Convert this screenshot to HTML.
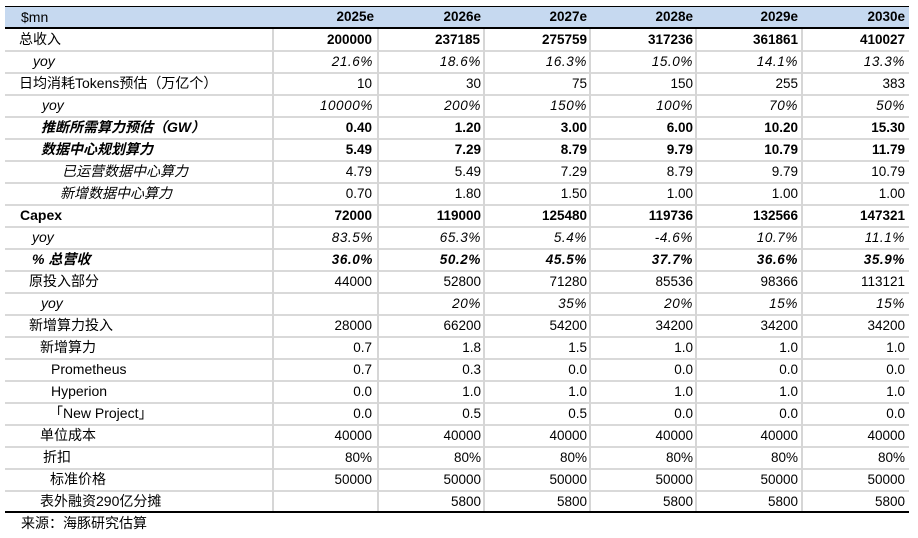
<!DOCTYPE html>
<html>
<head>
<meta charset="utf-8">
<style>
html,body{margin:0;padding:0;background:#fff;}
body{width:918px;height:538px;position:relative;overflow:hidden;font-family:"Liberation Sans","Noto Sans CJK SC",sans-serif;color:#000;}
.a{position:absolute;}
.hl{position:absolute;left:5px;width:904px;height:2px;background:#d9d9d9;}
.vl{position:absolute;top:29px;height:483px;width:2px;background:#d6d6d6;}
.lab{position:absolute;font-size:14px;height:21px;line-height:21px;white-space:nowrap;}
.n{position:absolute;width:100px;text-align:right;font-size:13.5px;letter-spacing:0px;height:21px;line-height:21px;white-space:nowrap;}
.b{font-weight:bold;}
.i{font-style:italic;}
.n.i{letter-spacing:0.6px;}
.hd{position:absolute;width:100px;text-align:right;font-size:13.5px;font-weight:bold;top:7px;height:20px;line-height:20px;}
</style>
</head>
<body>
<div class="a" style="left:5px;top:6px;width:904px;height:2px;background:#000;"></div>
<div class="a" style="left:5px;top:7px;width:904px;height:20px;background:#c6d9f0;"></div>
<div class="a" style="left:5px;top:27px;width:904px;height:2px;background:#000;"></div>
<div class="a" style="left:21px;top:7px;height:20px;line-height:20px;font-size:14px;">$mn</div>
<div class="hd" style="left:274px;">2025e</div>
<div class="hd" style="left:381px;">2026e</div>
<div class="hd" style="left:487px;">2027e</div>
<div class="hd" style="left:593px;">2028e</div>
<div class="hd" style="left:698px;">2029e</div>
<div class="hd" style="left:805px;">2030e</div>

<div class="hl" style="top:50px"></div><div class="hl" style="top:72px"></div><div class="hl" style="top:94px"></div><div class="hl" style="top:116px"></div><div class="hl" style="top:138px"></div><div class="hl" style="top:160px"></div><div class="hl" style="top:182px"></div><div class="hl" style="top:204px"></div><div class="hl" style="top:226px"></div><div class="hl" style="top:248px"></div><div class="hl" style="top:270px"></div><div class="hl" style="top:292px"></div><div class="hl" style="top:314px"></div><div class="hl" style="top:336px"></div><div class="hl" style="top:358px"></div><div class="hl" style="top:380px"></div><div class="hl" style="top:402px"></div><div class="hl" style="top:424px"></div><div class="hl" style="top:446px"></div><div class="hl" style="top:468px"></div><div class="hl" style="top:490px"></div>

<div class="vl" style="left:272px"></div><div class="vl" style="left:377px"></div><div class="vl" style="left:483px"></div><div class="vl" style="left:589px"></div><div class="vl" style="left:695px"></div><div class="vl" style="left:801px"></div>

<div class="a" style="left:5px;top:511px;width:904px;height:2px;background:#000;"></div>
<div class="a" style="left:21px;top:513px;height:21px;line-height:21px;font-size:14px;">来源：海豚研究估算</div>

<div class="lab" style="left:19px;top:29px">总收入</div>
<div class="n b" style="left:272px;top:29px">200000</div><div class="n b" style="left:380px;top:29px">237185</div><div class="n b" style="left:487px;top:29px">275759</div><div class="n b" style="left:593px;top:29px">317236</div><div class="n b" style="left:698px;top:29px">361861</div><div class="n b" style="left:805px;top:29px">410027</div>

<div class="lab i" style="left:33px;top:51px">yoy</div>
<div class="n i" style="left:273px;top:51px">21.6%</div><div class="n i" style="left:381px;top:51px">18.6%</div><div class="n i" style="left:487px;top:51px">16.3%</div><div class="n i" style="left:593px;top:51px">15.0%</div><div class="n i" style="left:698px;top:51px">14.1%</div><div class="n i" style="left:805px;top:51px">13.3%</div>

<div class="lab" style="left:19px;top:73px">日均消耗Tokens预估（万亿个）</div>
<div class="n" style="left:272px;top:73px">10</div><div class="n" style="left:381px;top:73px">30</div><div class="n" style="left:487px;top:73px">75</div><div class="n" style="left:593px;top:73px">150</div><div class="n" style="left:698px;top:73px">255</div><div class="n" style="left:805px;top:73px">383</div>

<div class="lab i" style="left:42px;top:95px">yoy</div>
<div class="n i" style="left:273px;top:95px">10000%</div><div class="n i" style="left:381px;top:95px">200%</div><div class="n i" style="left:487px;top:95px">150%</div><div class="n i" style="left:593px;top:95px">100%</div><div class="n i" style="left:698px;top:95px">70%</div><div class="n i" style="left:805px;top:95px">50%</div>

<div class="lab b i" style="left:41px;top:117px">推断所需算力预估（GW）</div>
<div class="n b" style="left:272px;top:117px">0.40</div><div class="n b" style="left:381px;top:117px">1.20</div><div class="n b" style="left:487px;top:117px">3.00</div><div class="n b" style="left:593px;top:117px">6.00</div><div class="n b" style="left:698px;top:117px">10.20</div><div class="n b" style="left:805px;top:117px">15.30</div>

<div class="lab b i" style="left:41px;top:139px">数据中心规划算力</div>
<div class="n b" style="left:272px;top:139px">5.49</div><div class="n b" style="left:381px;top:139px">7.29</div><div class="n b" style="left:487px;top:139px">8.79</div><div class="n b" style="left:593px;top:139px">9.79</div><div class="n b" style="left:698px;top:139px">10.79</div><div class="n b" style="left:805px;top:139px">11.79</div>

<div class="lab i" style="left:62px;top:161px">已运营数据中心算力</div>
<div class="n" style="left:272px;top:161px">4.79</div><div class="n" style="left:381px;top:161px">5.49</div><div class="n" style="left:487px;top:161px">7.29</div><div class="n" style="left:593px;top:161px">8.79</div><div class="n" style="left:698px;top:161px">9.79</div><div class="n" style="left:805px;top:161px">10.79</div>

<div class="lab i" style="left:60px;top:183px">新增数据中心算力</div>
<div class="n" style="left:272px;top:183px">0.70</div><div class="n" style="left:381px;top:183px">1.80</div><div class="n" style="left:487px;top:183px">1.50</div><div class="n" style="left:593px;top:183px">1.00</div><div class="n" style="left:698px;top:183px">1.00</div><div class="n" style="left:805px;top:183px">1.00</div>

<div class="lab b" style="left:20px;top:205px">Capex</div>
<div class="n b" style="left:272px;top:205px">72000</div><div class="n b" style="left:381px;top:205px">119000</div><div class="n b" style="left:487px;top:205px">125480</div><div class="n b" style="left:593px;top:205px">119736</div><div class="n b" style="left:698px;top:205px">132566</div><div class="n b" style="left:805px;top:205px">147321</div>

<div class="lab i" style="left:32px;top:227px">yoy</div>
<div class="n i" style="left:273px;top:227px">83.5%</div><div class="n i" style="left:381px;top:227px">65.3%</div><div class="n i" style="left:487px;top:227px">5.4%</div><div class="n i" style="left:593px;top:227px">-4.6%</div><div class="n i" style="left:698px;top:227px">10.7%</div><div class="n i" style="left:805px;top:227px">11.1%</div>

<div class="lab b i" style="left:32px;top:249px">% 总营收</div>
<div class="n b i" style="left:273px;top:249px">36.0%</div><div class="n b i" style="left:381px;top:249px">50.2%</div><div class="n b i" style="left:487px;top:249px">45.5%</div><div class="n b i" style="left:593px;top:249px">37.7%</div><div class="n b i" style="left:698px;top:249px">36.6%</div><div class="n b i" style="left:805px;top:249px">35.9%</div>

<div class="lab" style="left:29px;top:271px">原投入部分</div>
<div class="n" style="left:272px;top:271px">44000</div><div class="n" style="left:381px;top:271px">52800</div><div class="n" style="left:487px;top:271px">71280</div><div class="n" style="left:593px;top:271px">85536</div><div class="n" style="left:698px;top:271px">98366</div><div class="n" style="left:805px;top:271px">113121</div>

<div class="lab i" style="left:41px;top:293px">yoy</div>
<div class="n i" style="left:381px;top:293px">20%</div><div class="n i" style="left:487px;top:293px">35%</div><div class="n i" style="left:593px;top:293px">20%</div><div class="n i" style="left:698px;top:293px">15%</div><div class="n i" style="left:805px;top:293px">15%</div>

<div class="lab" style="left:29px;top:315px">新增算力投入</div>
<div class="n" style="left:272px;top:315px">28000</div><div class="n" style="left:381px;top:315px">66200</div><div class="n" style="left:487px;top:315px">54200</div><div class="n" style="left:593px;top:315px">34200</div><div class="n" style="left:698px;top:315px">34200</div><div class="n" style="left:805px;top:315px">34200</div>

<div class="lab" style="left:40px;top:337px">新增算力</div>
<div class="n" style="left:272px;top:337px">0.7</div><div class="n" style="left:381px;top:337px">1.8</div><div class="n" style="left:487px;top:337px">1.5</div><div class="n" style="left:593px;top:337px">1.0</div><div class="n" style="left:698px;top:337px">1.0</div><div class="n" style="left:805px;top:337px">1.0</div>

<div class="lab" style="left:51px;top:359px">Prometheus</div>
<div class="n" style="left:272px;top:359px">0.7</div><div class="n" style="left:381px;top:359px">0.3</div><div class="n" style="left:487px;top:359px">0.0</div><div class="n" style="left:593px;top:359px">0.0</div><div class="n" style="left:698px;top:359px">0.0</div><div class="n" style="left:805px;top:359px">0.0</div>

<div class="lab" style="left:51px;top:381px">Hyperion</div>
<div class="n" style="left:272px;top:381px">0.0</div><div class="n" style="left:381px;top:381px">1.0</div><div class="n" style="left:487px;top:381px">1.0</div><div class="n" style="left:593px;top:381px">1.0</div><div class="n" style="left:698px;top:381px">1.0</div><div class="n" style="left:805px;top:381px">1.0</div>

<div class="lab" style="left:49px;top:403px">「New Project」</div>
<div class="n" style="left:272px;top:403px">0.0</div><div class="n" style="left:381px;top:403px">0.5</div><div class="n" style="left:487px;top:403px">0.5</div><div class="n" style="left:593px;top:403px">0.0</div><div class="n" style="left:698px;top:403px">0.0</div><div class="n" style="left:805px;top:403px">0.0</div>

<div class="lab" style="left:40px;top:425px">单位成本</div>
<div class="n" style="left:272px;top:425px">40000</div><div class="n" style="left:381px;top:425px">40000</div><div class="n" style="left:487px;top:425px">40000</div><div class="n" style="left:593px;top:425px">40000</div><div class="n" style="left:698px;top:425px">40000</div><div class="n" style="left:805px;top:425px">40000</div>

<div class="lab" style="left:43px;top:447px">折扣</div>
<div class="n" style="left:272px;top:447px">80%</div><div class="n" style="left:381px;top:447px">80%</div><div class="n" style="left:487px;top:447px">80%</div><div class="n" style="left:593px;top:447px">80%</div><div class="n" style="left:698px;top:447px">80%</div><div class="n" style="left:805px;top:447px">80%</div>

<div class="lab" style="left:50px;top:469px">标准价格</div>
<div class="n" style="left:272px;top:469px">50000</div><div class="n" style="left:381px;top:469px">50000</div><div class="n" style="left:487px;top:469px">50000</div><div class="n" style="left:593px;top:469px">50000</div><div class="n" style="left:698px;top:469px">50000</div><div class="n" style="left:805px;top:469px">50000</div>

<div class="lab" style="left:40px;top:491px">表外融资290亿分摊</div>
<div class="n" style="left:381px;top:491px">5800</div><div class="n" style="left:487px;top:491px">5800</div><div class="n" style="left:593px;top:491px">5800</div><div class="n" style="left:698px;top:491px">5800</div><div class="n" style="left:805px;top:491px">5800</div>
</body>
</html>
